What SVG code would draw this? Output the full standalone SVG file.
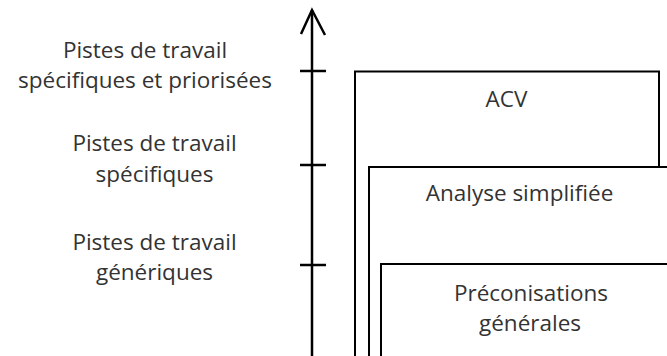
<svg xmlns="http://www.w3.org/2000/svg" width="667" height="356" viewBox="0 0 667 356">
<style>
text{font-family:"Open Sans","Liberation Sans",sans-serif;font-size:22.5px;fill:#333;text-anchor:middle}
.box{fill:#fff;stroke:#000;stroke-width:2}
.ax{stroke:#000;stroke-width:2.5;fill:none}
</style>
<rect width="667" height="356" fill="#fff"/>
<g id="labels">
<text x="145" y="58">Pistes de travail</text>
<text x="145" y="88">spécifiques et priorisées</text>
<text x="154.5" y="151">Pistes de travail</text>
<text x="154.5" y="182">spécifiques</text>
<text x="154.5" y="250">Pistes de travail</text>
<text x="154.5" y="280">génériques</text>
</g>
<g id="connectors">
<line class="ax" x1="312" y1="10" x2="312" y2="356"/>
<polyline class="ax" points="301,34 312,10 325,35"/>
<line class="ax" x1="300" y1="71" x2="326" y2="71"/>
<line class="ax" x1="300" y1="165" x2="326" y2="165"/>
<line class="ax" x1="300" y1="265" x2="326" y2="265"/>
</g>
<g id="acv">
<path class="box" d="M355,360 V71.5 H659 V167"/>
<text x="506.5" y="107">ACV</text>
</g>
<g id="analyse">
<path class="box" d="M369,360 V167 H670"/>
<text x="519.5" y="201">Analyse simplifiée</text>
</g>
<g id="preconisations">
<path class="box" d="M381,360 V264 H670"/>
<text x="531" y="301">Préconisations</text>
<text x="530" y="331">générales</text>
</g>
</svg>
